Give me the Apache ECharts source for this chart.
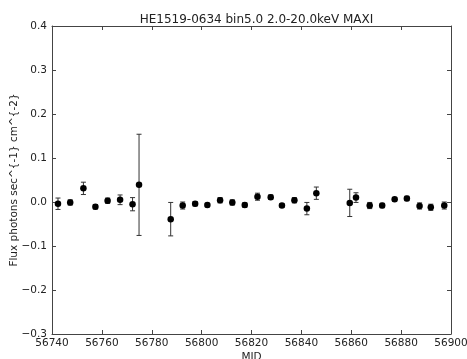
<!DOCTYPE html>
<html>
<head>
<meta charset="utf-8">
<script src="https://cdn.jsdelivr.net/npm/echarts@6/dist/echarts.min.js"></script>
<style>
html,body{margin:0;padding:0;background:#fff;}
#chart{width:467px;height:359px;}
</style>
</head>
<body>
<div id="chart"></div>
<script>
var titleText = "HE1519-0634 bin5.0 2.0-20.0keV MAXI";
var xName = "MJD";
var yName = "Flux photons sec^{-1} cm^{-2}";
var mjd  = [56742.4,56747.3,56752.6,56757.4,56762.3,56767.3,56772.3,56774.9,56787.6,56792.4,
            56797.4,56802.3,56807.4,56812.3,56817.3,56822.4,56827.7,56832.2,56837.2,56842.2,
            56846.0,56859.4,56861.9,56867.4,56872.4,56877.4,56882.3,56887.4,56891.9,56897.3];
var flux = [-0.004,-0.001,0.031,-0.011,0.003,0.005,-0.005,0.039,-0.039,-0.008,
            -0.004,-0.007,0.004,-0.001,-0.007,0.012,0.011,-0.008,0.004,-0.015,
            0.020,-0.002,0.010,-0.008,-0.008,0.006,0.008,-0.009,-0.012,-0.008];
var ferr = [0.013,0.006,0.014,0.005,0.006,0.011,0.015,0.115,0.038,0.008,
            0.005,0.004,0.006,0.006,0.005,0.008,0.005,0.004,0.006,0.014,
            0.014,0.031,0.011,0.007,0.005,0.004,0.005,0.007,0.007,0.008];
var xTicks = {min:56740, max:56900, interval:20};
var yTicks = {min:-0.3, max:0.4, interval:0.1};

var pts = mjd.map(function(x,i){return [x, flux[i]];});
var errs = mjd.map(function(x,i){return [x, flux[i]-ferr[i], flux[i]+ferr[i]];});

var font = "DejaVu Sans";
var txt = "#222";
var frame = "#444";
function yfmt(v){var s=(Math.round(v*10)/10).toFixed(1); return s.replace('-', '\u2212');}
function xfmt(v){return String(Math.round(v));}

var chart = echarts.init(document.getElementById('chart'), null, {renderer:'canvas'});
chart.setOption({
  animation:false,
  backgroundColor:'#fff',
  title:{text:titleText, left:251.5, textAlign:'center', top:9,
         textStyle:{fontFamily:font, fontSize:12, fontWeight:'normal', color:txt}},
  grid:{left:52, right:16, top:26, bottom:25, containLabel:false, outerBoundsMode:'none'},
  xAxis:[{type:'value', min:xTicks.min, max:xTicks.max, interval:xTicks.interval,
          name:xName, nameLocation:'middle', nameGap:18, nameMoveOverlap:false,
          nameTextStyle:{fontFamily:font, fontSize:10.5, color:txt, verticalAlign:'top'},
          axisLine:{onZero:false, lineStyle:{color:frame, width:1}},
          axisTick:{inside:true, length:4, lineStyle:{color:frame}},
          axisLabel:{fontFamily:font, fontSize:10.5, color:txt, margin:4, formatter:xfmt},
          splitLine:{show:false}},
         {type:'value', position:'top', min:xTicks.min, max:xTicks.max, interval:xTicks.interval,
          axisLine:{onZero:false, lineStyle:{color:frame, width:1}},
          axisTick:{inside:true, length:4, lineStyle:{color:frame}},
          axisLabel:{show:false}, splitLine:{show:false}}],
  yAxis:[{type:'value', min:yTicks.min, max:yTicks.max, interval:yTicks.interval,
          name:yName, nameLocation:'middle', nameGap:32, nameRotate:90, nameMoveOverlap:false,
          nameTextStyle:{fontFamily:font, fontSize:10.5, color:txt},
          axisLine:{show:true, onZero:false, lineStyle:{color:frame, width:1}},
          axisTick:{show:true, inside:true, length:4, lineStyle:{color:frame}},
          axisLabel:{fontFamily:font, fontSize:10.5, color:txt, margin:5, formatter:yfmt},
          splitLine:{show:false}},
         {type:'value', position:'right', min:yTicks.min, max:yTicks.max, interval:yTicks.interval,
          axisLine:{show:true, onZero:false, lineStyle:{color:frame, width:1}},
          axisTick:{show:true, inside:true, length:4, lineStyle:{color:frame}},
          axisLabel:{show:false}, splitLine:{show:false}}],
  series:[
    {type:'custom', xAxisIndex:0, yAxisIndex:0, data:errs, z:2,
     renderItem:function(params, api){
       var x = api.value(0);
       var lo = api.coord([x, api.value(1)]);
       var hi = api.coord([x, api.value(2)]);
       var cap = 2.5;
       var st = {stroke:'#333', lineWidth:1};
       return {type:'group', children:[
         {type:'line', shape:{x1:lo[0], y1:lo[1], x2:hi[0], y2:hi[1]}, style:st},
         {type:'line', shape:{x1:lo[0]-cap, y1:lo[1], x2:lo[0]+cap, y2:lo[1]}, style:st},
         {type:'line', shape:{x1:hi[0]-cap, y1:hi[1], x2:hi[0]+cap, y2:hi[1]}, style:st}
       ]};
     }},
    {type:'scatter', xAxisIndex:0, yAxisIndex:0, data:pts, symbol:'circle', symbolSize:6.5, z:3,
     itemStyle:{color:'#000', opacity:1}}
  ]
});
</script>
</body>
</html>
